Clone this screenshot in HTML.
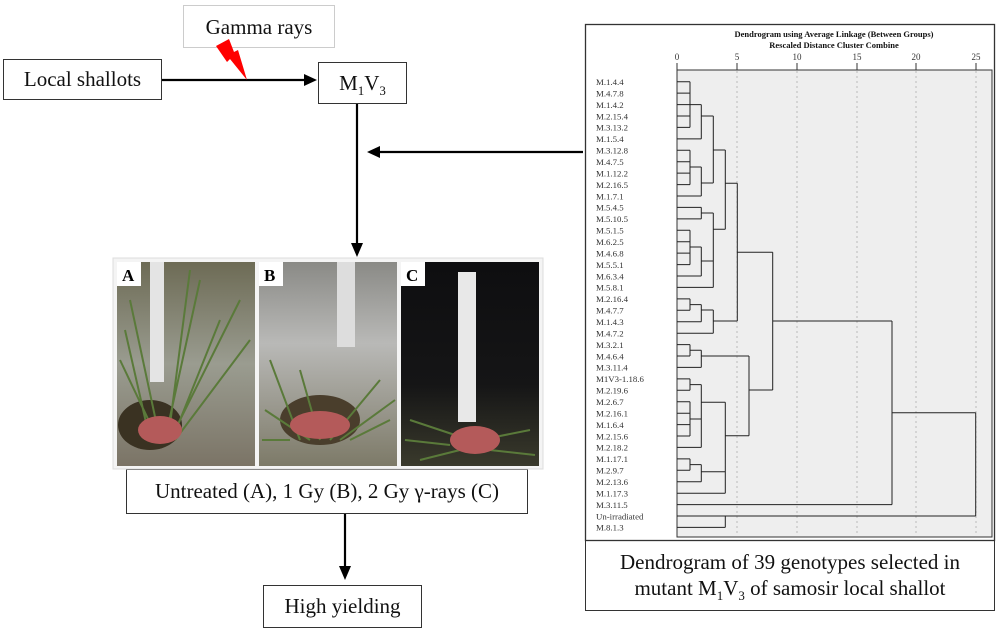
<!DOCTYPE html>
<html><head><meta charset="utf-8"><style>
body{margin:0;background:#fff;width:1000px;height:633px;overflow:hidden;position:relative;font-family:"Liberation Serif",serif}
.box{position:absolute;border:1.3px solid #333;background:#fff;box-sizing:border-box;text-align:center;color:#111}
</style></head><body>
<div class="box" style="left:183px;top:5px;width:152px;height:43px;border-color:#ccc;font-size:21px;line-height:42px">Gamma rays</div>
<div class="box" style="left:3px;top:59px;width:159px;height:41px;font-size:21px;line-height:39px">Local shallots</div>
<div class="box" style="left:318px;top:62px;width:89px;height:42px;font-size:21px;line-height:40px">M<sub style="font-size:13px">1</sub>V<sub style="font-size:13px">3</sub></div>
<div class="box" style="left:126px;top:469px;width:402px;height:45px;font-size:21px;line-height:43px">Untreated (A), 1 Gy (B), 2 Gy γ-rays (C)</div>
<div class="box" style="left:263px;top:585px;width:159px;height:43px;font-size:21px;line-height:41px">High yielding</div>
<div class="box" style="left:585px;top:540px;width:410px;height:71px;font-size:21px;line-height:26px;padding-top:8px">Dendrogram of 39 genotypes selected in<br>mutant M<sub style="font-size:13px">1</sub>V<sub style="font-size:13px">3</sub> of samosir local shallot</div>

<svg width="1000" height="633" style="position:absolute;left:0;top:0" xmlns="http://www.w3.org/2000/svg">
<g stroke="#000" stroke-width="2.2" fill="#000">
<line x1="162" y1="80" x2="306" y2="80"/><polygon points="304,74 317,80 304,86" stroke="none"/>
<line x1="357" y1="104" x2="357" y2="245"/><polygon points="351,243 357,257 363,243" stroke="none"/>
<line x1="583" y1="152" x2="378" y2="152"/><polygon points="380,146 367,152 380,158" stroke="none"/>
<line x1="345" y1="514" x2="345" y2="568"/><polygon points="339,566 345,580 351,566" stroke="none"/>
</g>
<polygon points="216,46 229,39 234,52 238,50 247,80 230,59 227,62" fill="#f00"/>

<rect x="113" y="258" width="430" height="211" fill="#f4f4f4" stroke="#ddd"/>
<defs>
<linearGradient id="ga" x1="0" y1="0" x2="0" y2="1"><stop offset="0" stop-color="#6d6b55"/><stop offset=".5" stop-color="#9a9c90"/><stop offset="1" stop-color="#7b7466"/></linearGradient>
<linearGradient id="gb" x1="0" y1="0" x2="0" y2="1"><stop offset="0" stop-color="#8a8a86"/><stop offset=".4" stop-color="#b9b9b7"/><stop offset="1" stop-color="#7d7a68"/></linearGradient>
<linearGradient id="gc" x1="0" y1="0" x2="0" y2="1"><stop offset="0" stop-color="#0e0e10"/><stop offset=".6" stop-color="#151516"/><stop offset="1" stop-color="#3a3a2c"/></linearGradient>
</defs>
<rect x="117" y="262" width="138" height="204" fill="url(#ga)"/>
<rect x="259" y="262" width="138" height="204" fill="url(#gb)"/>
<rect x="401" y="262" width="138" height="204" fill="url(#gc)"/>
<rect x="150" y="262" width="14" height="120" fill="#e4e4e4"/>
<rect x="337" y="262" width="18" height="85" fill="#ddd"/>
<rect x="458" y="272" width="18" height="150" fill="#e8e8e8"/>
<ellipse cx="150" cy="425" rx="32" ry="25" fill="#3a3222"/>
<ellipse cx="320" cy="420" rx="40" ry="25" fill="#4a3e2c"/>
<g stroke="#5a7a3a" stroke-width="2" fill="none">
<path d="M160 440 L130 300 M165 440 L200 280 M170 440 L240 300 M158 440 L120 360 M175 440 L250 340 M168 440 L190 270 M150 440 L125 330 M172 440 L220 320"/>
<path d="M300 440 L270 360 M320 440 L300 370 M350 440 L390 420 M330 440 L380 380 M310 440 L265 410 M290 440 L262 440 M340 440 L395 400"/>
<path d="M470 440 L410 420 M480 440 L530 430 M460 450 L420 460 M490 450 L535 455 M450 445 L405 440"/>
</g>
<g fill="#b45a5a"><ellipse cx="160" cy="430" rx="22" ry="14"/><ellipse cx="320" cy="425" rx="30" ry="14"/><ellipse cx="475" cy="440" rx="25" ry="14"/></g>
<g font-family="Liberation Serif,serif" font-weight="bold" font-size="17">
<rect x="117" y="262" width="24" height="24" fill="#fff"/><text x="122" y="281">A</text>
<rect x="259" y="262" width="24" height="24" fill="#fff"/><text x="264" y="281">B</text>
<rect x="401" y="262" width="24" height="24" fill="#fff"/><text x="406" y="281">C</text>
</g>

<rect x="585.5" y="24.5" width="409" height="516" fill="#fff" stroke="#333" stroke-width="1.3"/>
<g font-family="Liberation Serif,serif" font-weight="bold" font-size="8.5" text-anchor="middle" fill="#111">
<text x="834" y="37">Dendrogram using Average Linkage (Between Groups)</text>
<text x="834" y="48">Rescaled Distance Cluster Combine</text>
</g>
<rect x="677" y="70" width="315" height="467" fill="#eeeeee" stroke="#333" stroke-width="1"/>
<g font-family="Liberation Serif,serif" font-size="9" text-anchor="middle" fill="#333">
<text x="677" y="60">0</text><text x="737" y="60">5</text><text x="797" y="60">10</text><text x="857" y="60">15</text><text x="916" y="60">20</text><text x="976" y="60">25</text>
</g>
<g stroke="#333" stroke-width="1"><line x1="677" y1="63" x2="677" y2="70"/><line x1="737" y1="63" x2="737" y2="70"/><line x1="797" y1="63" x2="797" y2="70"/><line x1="857" y1="63" x2="857" y2="70"/><line x1="916" y1="63" x2="916" y2="70"/><line x1="976" y1="63" x2="976" y2="70"/></g>
<g stroke="#bbb" stroke-width="1" stroke-dasharray="2,3"><line x1="737" y1="71" x2="737" y2="536"/><line x1="797" y1="71" x2="797" y2="536"/><line x1="857" y1="71" x2="857" y2="536"/><line x1="916" y1="71" x2="916" y2="536"/><line x1="976" y1="71" x2="976" y2="536"/></g>
<g font-family="Liberation Serif,serif" font-size="8.8" fill="#333">
<text x="596" y="85">M.1.4.4</text><text x="596" y="96.4">M.4.7.8</text><text x="596" y="107.9">M.1.4.2</text><text x="596" y="119.3">M.2.15.4</text><text x="596" y="130.7">M.3.13.2</text><text x="596" y="142.2">M.1.5.4</text><text x="596" y="153.6">M.3.12.8</text><text x="596" y="165">M.4.7.5</text><text x="596" y="176.4">M.1.12.2</text><text x="596" y="187.9">M.2.16.5</text><text x="596" y="199.3">M.1.7.1</text><text x="596" y="210.7">M.5.4.5</text><text x="596" y="222.2">M.5.10.5</text><text x="596" y="233.6">M.5.1.5</text><text x="596" y="245">M.6.2.5</text><text x="596" y="256.4">M.4.6.8</text><text x="596" y="267.9">M.5.5.1</text><text x="596" y="279.3">M.6.3.4</text><text x="596" y="290.7">M.5.8.1</text><text x="596" y="302.2">M.2.16.4</text><text x="596" y="313.6">M.4.7.7</text><text x="596" y="325">M.1.4.3</text><text x="596" y="336.5">M.4.7.2</text><text x="596" y="347.9">M.3.2.1</text><text x="596" y="359.3">M.4.6.4</text><text x="596" y="370.7">M.3.11.4</text><text x="596" y="382.2">M1V3-1.18.6</text><text x="596" y="393.6">M.2.19.6</text><text x="596" y="405">M.2.6.7</text><text x="596" y="416.5">M.2.16.1</text><text x="596" y="427.9">M.1.6.4</text><text x="596" y="439.3">M.2.15.6</text><text x="596" y="450.7">M.2.18.2</text><text x="596" y="462.2">M.1.17.1</text><text x="596" y="473.6">M.2.9.7</text><text x="596" y="485">M.2.13.6</text><text x="596" y="496.5">M.1.17.3</text><text x="596" y="507.9">M.3.11.5</text><text x="596" y="519.3">Un-irradiated</text><text x="596" y="530.7">M.8.1.3</text>
</g>
<g stroke="#222" stroke-width="1" fill="none">
<path d="M677 81.7H690M677 93.1H690M677 104.6H690M677 116H690M677 127.4H690M677 138.9H701.3M677 150.3H690M677 161.7H690M677 173.1H690M677 184.6H690M677 196H701.3M677 207.4H701.3M677 218.9H701.3M677 230.3H690M677 241.7H690M677 253.1H690M677 264.6H690M677 276H701.3M677 287.4H713.3M677 298.9H690M677 310.3H690M677 321.7H701.3M677 333.2H713.3M677 344.6H690M677 356H690M677 367.4H701.3M677 378.9H690M677 390.3H690M677 401.7H690M677 413.2H690M677 424.6H690M677 436H690M677 447.4H701.3M677 458.9H690M677 470.3H690M677 481.7H701.3M677 493.2H725.3M677 504.6H892M677 516H975.7M677 527.4H725.3"/>
<path d="M690 81.7V127.4M690 104.6H701.3M701.3 104.6V138.9M701.3 116H713.3"/>
<path d="M690 150.3V184.6M690 167H701.3M701.3 167V196M701.3 183H713.3M713.3 116V183M713.3 150H725.3"/>
<path d="M701.3 207.4V218.9M701.3 213H713.3M690 230.3V264.6M690 247H701.3M701.3 247V276M701.3 261H713.3M713.3 213V287.4M713.3 229.3H725.3"/>
<path d="M725.3 150V229.3M725.3 183.3H737.3M737.3 183.3V321M737.3 252.3H772.7"/>
<path d="M690 298.9V310.3M690 304.6H701.3M701.3 304.6V321.7M701.3 310H713.3M713.3 310V333.2M713.3 321H737.3"/>
<path d="M690 344.6V356M690 350.3H701.3M701.3 350.3V367.4M701.3 356H749"/>
<path d="M690 378.9V390.3M690 384.6H701.3M690 401.7V436M690 419H701.3M701.3 384.6V447.4M701.3 402.3H725.3"/>
<path d="M690 458.9V470.3M690 464.6H701.3M701.3 464.6V481.7M701.3 471.7H725.3M725.3 402.3V493.2M725.3 435.7H749M749 356V435.7M749 390H772.7"/>
<path d="M772.7 252.3V390M772.7 321H892M892 321V504.6M892 412.7H975.7M975.7 412.7V516M725.3 516V527.4"/>
</g>
</svg>
</body></html>
